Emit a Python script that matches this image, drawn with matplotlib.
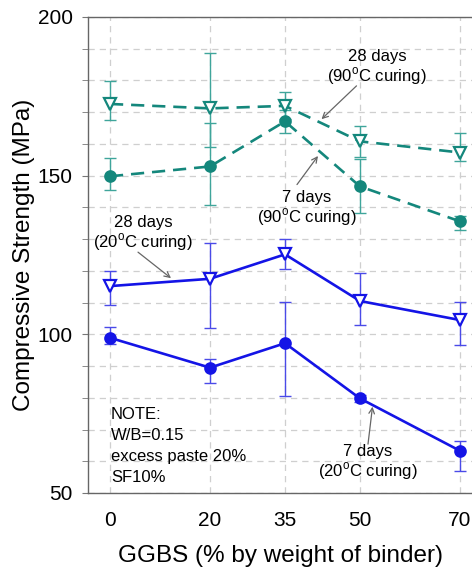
import matplotlib
matplotlib.use("Agg")
import matplotlib.pyplot as plt
import numpy as np

plt.rcParams["font.family"] = ["Liberation Sans", "DejaVu Sans"]
plt.rcParams["mathtext.fontset"] = "custom"
plt.rcParams["mathtext.rm"] = "Liberation Sans"

# --- data ---
ggbs = [0, 20, 35, 50, 70]
x_labels = ["0", "20", "35", "50", "70"]

s28_90 = [172.6, 171.2, 172.0, 160.8, 157.3]
s28_90_lo = [5.2, 12.3, 4.0, 5.0, 2.8]
s28_90_hi = [7.1, 17.6, 4.3, 5.0, 6.3]

s7_90 = [149.8, 152.9, 167.1, 146.6, 135.6]
s7_90_lo = [4.2, 12.3, 3.7, 8.5, 2.6]
s7_90_hi = [5.8, 13.7, 3.7, 8.5, 1.8]

s28_20 = [115.2, 117.5, 125.2, 110.5, 104.5]
s28_20_lo = [6.1, 15.4, 4.5, 7.7, 8.0]
s28_20_hi = [4.7, 11.3, 4.9, 8.7, 5.8]

s7_20 = [98.9, 89.5, 97.2, 79.8, 63.3]
s7_20_lo = [2.0, 4.7, 16.6, 1.0, 6.3]
s7_20_hi = [3.5, 2.6, 13.1, 1.0, 3.2]

TEAL = "#14877c"
TEAL_L = "#3fa59b"
BLUE = "#1414e6"
BLUE_L = "#4a4ae8"

fig = plt.figure(figsize=(4.72, 5.67), dpi=100)
ax = fig.add_axes([88 / 472, 74 / 567, 384 / 472, 476 / 567])

def series(y, lo, hi, col, ecol, ls, marker, mfc, ms):
    ax.errorbar(ggbs, y, yerr=[lo, hi], fmt="none", ecolor=ecol, elinewidth=1.0,
                capsize=4, capthick=1.0, zorder=3)
    ax.plot(ggbs, y, color=col, ls=ls, lw=1.9, marker=marker, ms=ms,
            mfc=mfc, mec=col, mew=1.6, zorder=4,
            dashes=(5, 3) if ls == "--" else (None, None))

series(s28_90, s28_90_lo, s28_90_hi, TEAL, TEAL_L, "--", "v", "white", 8.5)
series(s7_90, s7_90_lo, s7_90_hi, TEAL, TEAL_L, "--", "o", TEAL, 7.5)
series(s28_20, s28_20_lo, s28_20_hi, BLUE, BLUE_L, "-", "v", "white", 8.5)
series(s7_20, s7_20_lo, s7_20_hi, BLUE, BLUE_L, "-", "o", BLUE, 7.5)

ax.set_xlim(-4.4, 72.4)
ax.set_ylim(50, 200)
ax.set_xticks(ggbs)
ax.set_xticklabels(x_labels)
ax.set_yticks([50, 100, 150, 200])
ax.set_yticks(np.arange(60, 200, 10), minor=True)
ax.tick_params(axis="x", length=0, pad=13, labelsize=15)
ax.tick_params(axis="y", which="major", length=4, labelsize=15, color="#777777", pad=7)
ax.tick_params(axis="y", which="minor", length=4, color="#777777")

ax.grid(True, axis="x", ls=(0, (5, 4)), color="#cfcfcf", lw=0.9)
ax.grid(True, axis="y", which="both", ls=(0, (5, 4)), color="#cfcfcf", lw=0.9)
ax.set_axisbelow(True)
for s in ["left", "bottom", "top"]:
    ax.spines[s].set_color("#666666")
    ax.spines[s].set_linewidth(1.0)
ax.spines["right"].set_visible(False)

ax.set_xlabel("GGBS (% by weight of binder)", fontsize=17.5, labelpad=11)
ax.set_ylabel("Compressive Strength (MPa)", fontsize=17.5, labelpad=2)

deg = r"$^{\rm o}$"
arrow = dict(arrowstyle="->", color="#666666", lw=0.9, shrinkA=0, shrinkB=0)
fs = 12

# label texts
ax.text(53.4, 178.0, "28 days\n(90" + deg + "C curing)", ha="center", va="bottom",
        fontsize=fs, linespacing=1.1)
ax.text(39.3, 145.6, "7 days\n(90" + deg + "C curing)", ha="center", va="top",
        fontsize=fs, linespacing=1.1)
ax.text(6.6, 125.6, "28 days\n(20" + deg + "C curing)", ha="center", va="bottom",
        fontsize=fs, linespacing=1.1)
ax.text(51.6, 65.4, "7 days\n(20" + deg + "C curing)", ha="center", va="top",
        fontsize=fs, linespacing=1.1)

# pointer arrows
ax.annotate("", xy=(42.3, 167.8), xytext=(49.3, 178.3), arrowprops=arrow)
ax.annotate("", xy=(41.6, 156.2), xytext=(37.4, 147.2), arrowprops=arrow)
ax.annotate("", xy=(12.2, 117.7), xytext=(5.6, 125.9), arrowprops=arrow)
ax.annotate("", xy=(52.5, 77.2), xytext=(51.6, 65.4), arrowprops=arrow)

ax.text(0.2, 77.2, "NOTE:\nW/B=0.15\nexcess paste 20%\nSF10%", ha="left", va="top",
        fontsize=fs, linespacing=1.5)

fig.savefig("out.png", dpi=100)
